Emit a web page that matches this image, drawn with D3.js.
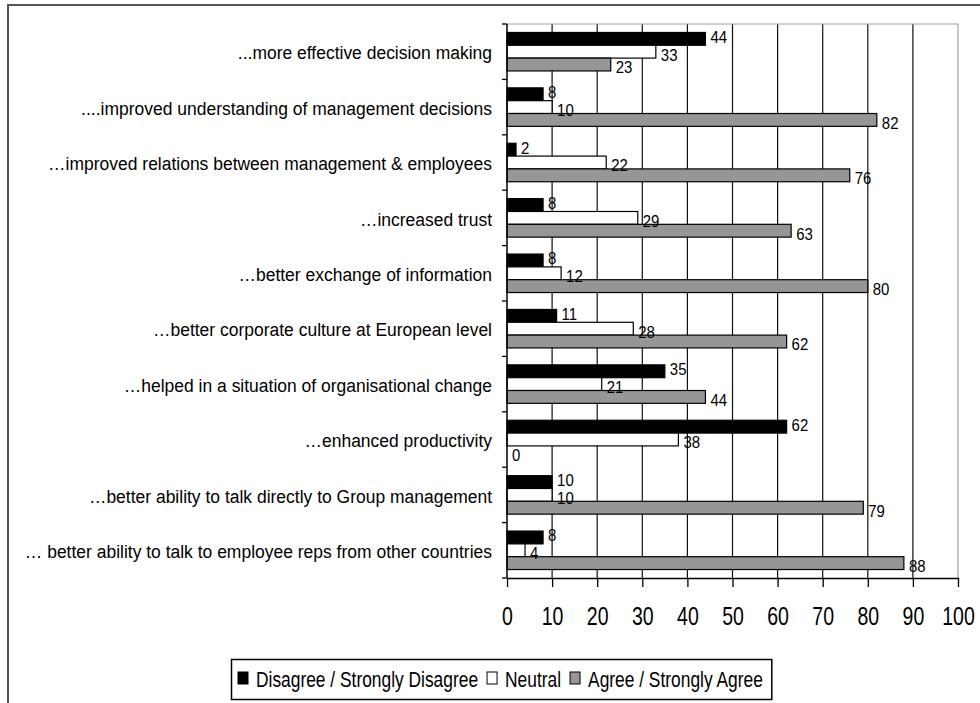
<!DOCTYPE html>
<html>
<head>
<meta charset="utf-8">
<script src="https://cdn.jsdelivr.net/npm/d3@7"></script>
<style>
  body { margin: 0; background: #fff; }
  svg text { font-family: "Liberation Sans", Arial, sans-serif; fill: #000; }
</style>
</head>
<body>
<svg id="chart"></svg>
<script>
const width = 980;
const height = 703;

// data, top to bottom as in the chart
const categories = [
  "...more effective decision making",
  "....improved understanding of management decisions",
  "\u2026improved relations between management & employees",
  "\u2026increased trust",
  "\u2026better exchange of information",
  "\u2026better corporate culture at European level",
  "\u2026helped in a situation of organisational change",
  "\u2026enhanced productivity",
  "\u2026better ability to talk directly to Group management",
  "\u2026 better ability to talk to employee reps from other countries"
];
const seriesNames = ["Disagree / Strongly Disagree", "Neutral", "Agree / Strongly Agree"];
const disagree = [44, 8, 2, 8, 8, 11, 35, 62, 10, 8];
const neutral = [33, 10, 22, 29, 12, 28, 21, 38, 10, 4];
const agree = [23, 82, 76, 63, 80, 62, 44, 0, 79, 88];
const xTicks = [0, 10, 20, 30, 40, 50, 60, 70, 80, 90, 100];

const seriesValues = [disagree, neutral, agree];
const seriesFill = ["#000000", "#ffffff", "#969696"];
// small vertical nudge of the value labels per series, keeps stacked labels apart
const labelNudge = [-2, 3, 3];

const plot = { left: 507, right: 958, top: 24, bottom: 578 };

const svg = d3.select("#chart")
  .attr("width", width)
  .attr("height", height);

// outer frame (runs off the right and bottom edge)
svg.append("rect")
  .attr("x", 8).attr("y", 5)
  .attr("width", 1100).attr("height", 900)
  .attr("fill", "#fff")
  .attr("stroke", "#555")
  .attr("stroke-width", 2);

/* ---------------------------
Scales
--------------------------- */

const x = d3.scaleLinear().domain([0, 100]).range([plot.left, plot.right]);

const y = d3.scaleBand()
  .domain(d3.range(categories.length))
  .range([plot.top, plot.bottom])
  .padding(0);

const ySub = d3.scaleBand()
  .domain(d3.range(seriesNames.length))
  .range([0, y.bandwidth()])
  .paddingInner(0)
  .paddingOuter(0.66);

/* ---------------------------
Grid + plot border
--------------------------- */

svg.append("g")
  .selectAll("line")
  .data(xTicks.filter(t => t > 0 && t < 100))
  .enter()
  .append("line")
  .attr("x1", d => x(d)).attr("x2", d => x(d))
  .attr("y1", plot.top).attr("y2", plot.bottom)
  .attr("stroke", "#111")
  .attr("stroke-width", 1.2);

svg.append("path")
  .attr("d", `M${plot.left},${plot.top}H${plot.right}V${plot.bottom}`)
  .attr("fill", "none")
  .attr("stroke", "#a0a0a0")
  .attr("stroke-width", 1.2);

/* ---------------------------
Bars
--------------------------- */

const rows = [];
categories.forEach((c, i) => {
  seriesValues.forEach((vals, s) => {
    rows.push({ cat: i, series: s, value: vals[i] });
  });
});

svg.append("g")
  .selectAll("rect")
  .data(rows)
  .enter()
  .append("rect")
  .attr("x", x(0))
  .attr("y", d => y(d.cat) + ySub(d.series))
  .attr("width", d => x(d.value) - x(0))
  .attr("height", ySub.bandwidth())
  .attr("fill", d => seriesFill[d.series])
  .attr("stroke", d => d.value > 0 ? "#000" : "none")
  .attr("stroke-width", 1.2);

/* ---------------------------
Axes
--------------------------- */

const xAxis = svg.append("g")
  .attr("transform", `translate(0,${plot.bottom})`)
  .call(d3.axisBottom(x).tickValues(xTicks).tickSize(9).tickSizeOuter(0));

xAxis.select(".domain").attr("stroke", "#000").attr("stroke-width", 1.5);
xAxis.selectAll(".tick line").attr("stroke", "#000").attr("stroke-width", 1.3);
xAxis.selectAll(".tick text")
  .attr("y", 0).attr("dy", null)
  .attr("dominant-baseline", "central")
  .attr("transform", "translate(0,39) scale(0.78,1)")
  .style("font-size", "25px")
  .style("font-family", "'Liberation Sans', Arial, sans-serif");

// y axis line with ticks on band boundaries
svg.append("line")
  .attr("x1", plot.left).attr("x2", plot.left)
  .attr("y1", plot.top).attr("y2", plot.bottom)
  .attr("stroke", "#000")
  .attr("stroke-width", 1.5);

const bounds = d3.range(categories.length).map(i => y(i)).concat([plot.bottom]);
svg.append("g")
  .selectAll("line")
  .data(bounds)
  .enter()
  .append("line")
  .attr("x1", plot.left - 5).attr("x2", plot.left)
  .attr("y1", d => d).attr("y2", d => d)
  .attr("stroke", "#000")
  .attr("stroke-width", 1.3);

// category labels
svg.append("g")
  .selectAll("text")
  .data(categories)
  .enter()
  .append("text")
  .attr("transform", (d, i) => `translate(${plot.left - 15},${y(i) + y.bandwidth() / 2 + 1}) scale(0.92,1)`)
  .attr("text-anchor", "end")
  .attr("dominant-baseline", "central")
  .style("font-size", "19px")
  .text(d => d);

/* ---------------------------
Value labels
--------------------------- */

svg.append("g")
  .selectAll("text")
  .data(rows)
  .enter()
  .append("text")
  .attr("transform", d => `translate(${x(d.value) + 5},${y(d.cat) + ySub(d.series) + ySub.bandwidth() / 2 + labelNudge[d.series]}) scale(0.88,1)`)
  .attr("dominant-baseline", "central")
  .style("font-size", "17px")
  .text(d => d.value);

/* ---------------------------
Legend
--------------------------- */

const legend = svg.append("g");
const legendY = 679;
let lx = 238;
seriesNames.forEach((name, s) => {
  legend.append("rect")
    .attr("x", lx).attr("y", legendY - 7)
    .attr("width", 10).attr("height", 12)
    .attr("fill", seriesFill[s])
    .attr("stroke", "#000")
    .attr("stroke-width", 1);
  const t = legend.append("text")
    .attr("transform", `translate(${lx + 18},${legendY}) scale(0.79,1)`)
    .attr("dominant-baseline", "central")
    .style("font-size", "22px")
    .text(name);
  lx = lx + 18 + t.node().getComputedTextLength() * 0.79 + 9;
});

legend.insert("rect", ":first-child")
  .attr("x", 231.5).attr("y", 659.5)
  .attr("width", lx - 231.5).attr("height", 40)
  .attr("fill", "#fff")
  .attr("stroke", "#000")
  .attr("stroke-width", 1.5);
</script>
</body>
</html>
